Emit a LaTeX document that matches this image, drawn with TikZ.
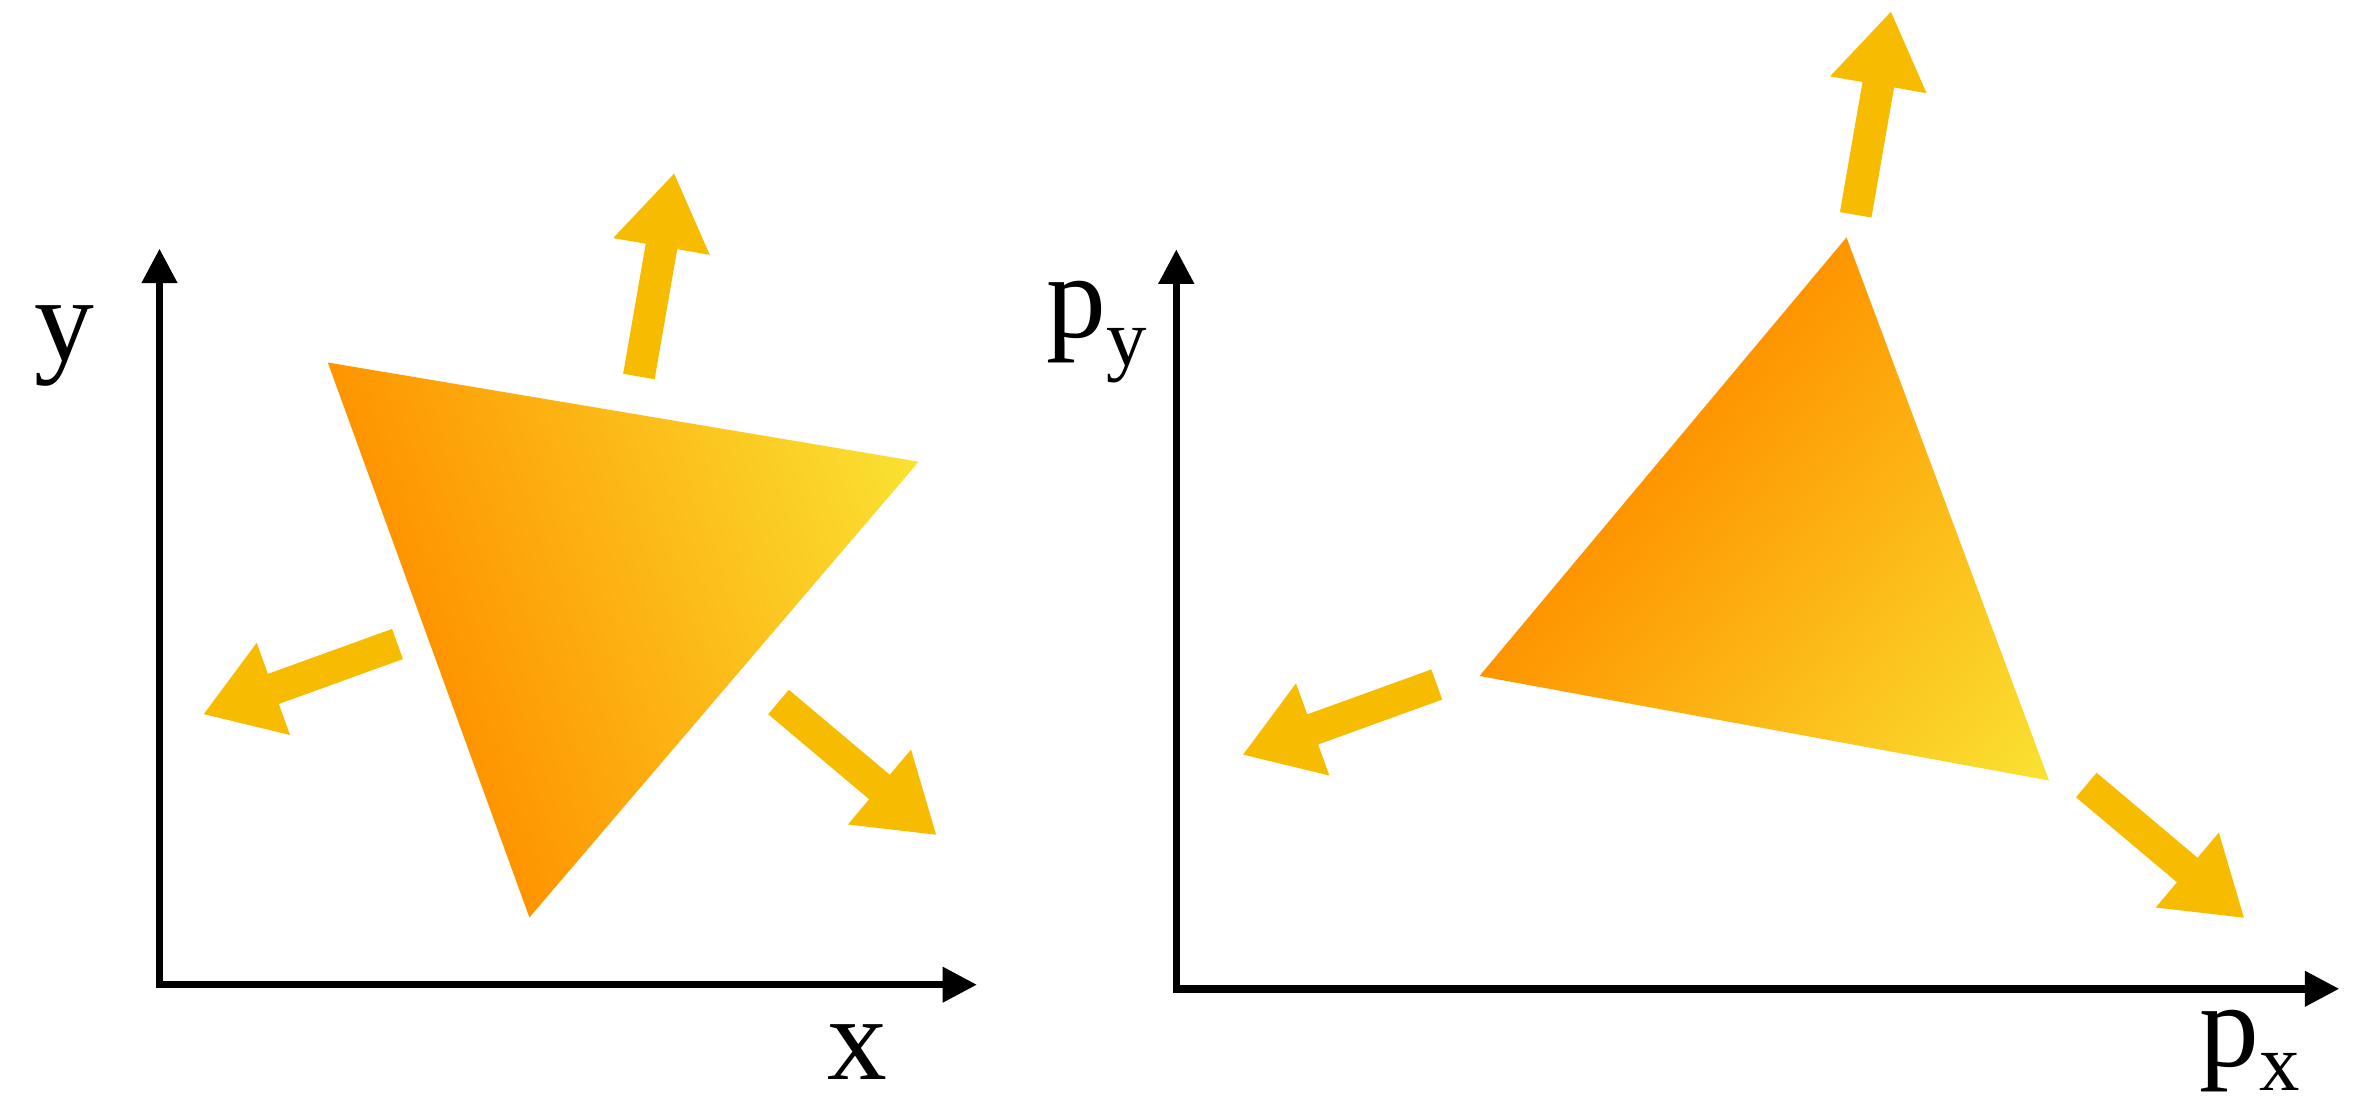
\documentclass[tikz,border=0pt]{standalone}
\usepackage{fontspec}
\setmainfont{Liberation Serif}
\usetikzlibrary{arrows.meta}
\definecolor{arrowcol}{HTML}{F7BC00}
\definecolor{orangeA}{HTML}{FE9500}
\definecolor{yellowB}{HTML}{FAE232}
\tikzset{axtip/.tip={Triangle[length=3.45mm,width=3.4mm]}}
\newcommand\fatarrow[2]{\fill[arrowcol, shift={#1}, rotate=#2] (0,-16) -- (132,-16) -- (132,-49) -- (206,0) -- (132,49) -- (132,16) -- (0,16) -- cycle;}
\begin{document}
\begin{tikzpicture}[x=0.1mm,y=-0.1mm,
  axis/.style={line width=0.75mm, axtip-axtip, line join=miter},
  lbl/.style={inner sep=0pt, font=\fontsize{34pt}{40pt}\selectfont}]
\useasboundingbox (0,0) rectangle (2372,1105);

% ---------- left panel ----------
\coordinate (A1) at (327.8,362.5);
\coordinate (A2) at (918.6,461.7);
\coordinate (A3) at (529.4,917.5);
\begin{scope}
  \clip (A1) -- (A2) -- (A3) -- cycle;
  \begin{scope}[transform canvas={shift={(A1)}, rotate=19.96}]
    \shade[left color=orangeA, right color=yellowB] (0,-2000) rectangle (521.4,2000);
  \end{scope}
\end{scope}

\fatarrow{(638.9,376.5)}{80.15}
\fatarrow{(397.5,644)}{199.9}
\fatarrow{(778.5,702)}{-40.1}

\coordinate (Ly) at (159.5,248.6);
\coordinate (Lo) at (159.5,984.7);
\coordinate (Lx) at (977,984.7);
\draw[axis] (Ly) -- (Lo) -- (Lx);
\node[lbl, anchor=base] (xl) at (857,1079) {x};
\node[lbl, anchor=base] (yl) at (64,361) {y};

% ---------- right panel ----------
\coordinate (B1) at (1846.5,237.4);
\coordinate (B2) at (1479.5,676);
\coordinate (B3) at (2049,780.5);
\begin{scope}
  \clip (B1) -- (B2) -- (B3) -- cycle;
  \begin{scope}[transform canvas={shift={(B1)}, rotate=-39.92}]
    \shade[left color=orangeA, right color=yellowB] (0,-2000) rectangle (503.8,2000);
  \end{scope}
\end{scope}

\fatarrow{(1855.7,214.8)}{80.15}
\fatarrow{(1436.8,684.5)}{199.9}
\fatarrow{(2086.3,785)}{-40.1}

\coordinate (Ry) at (1176.3,249.3);
\coordinate (Ro) at (1176.3,988.8);
\coordinate (Rx) at (2339.3,988.8);
\draw[axis] (Ry) -- (Ro) -- (Rx);
\node[lbl, anchor=base west] (pyl) at (1046,338) {p\raisebox{-2.8mm}{\fontsize{23pt}{28pt}\selectfont y}};
\node[lbl, anchor=base west] (pxl) at (2199,1067) {p\raisebox{-2.3mm}{\fontsize{23pt}{28pt}\selectfont x}};
\end{tikzpicture}
\end{document}
